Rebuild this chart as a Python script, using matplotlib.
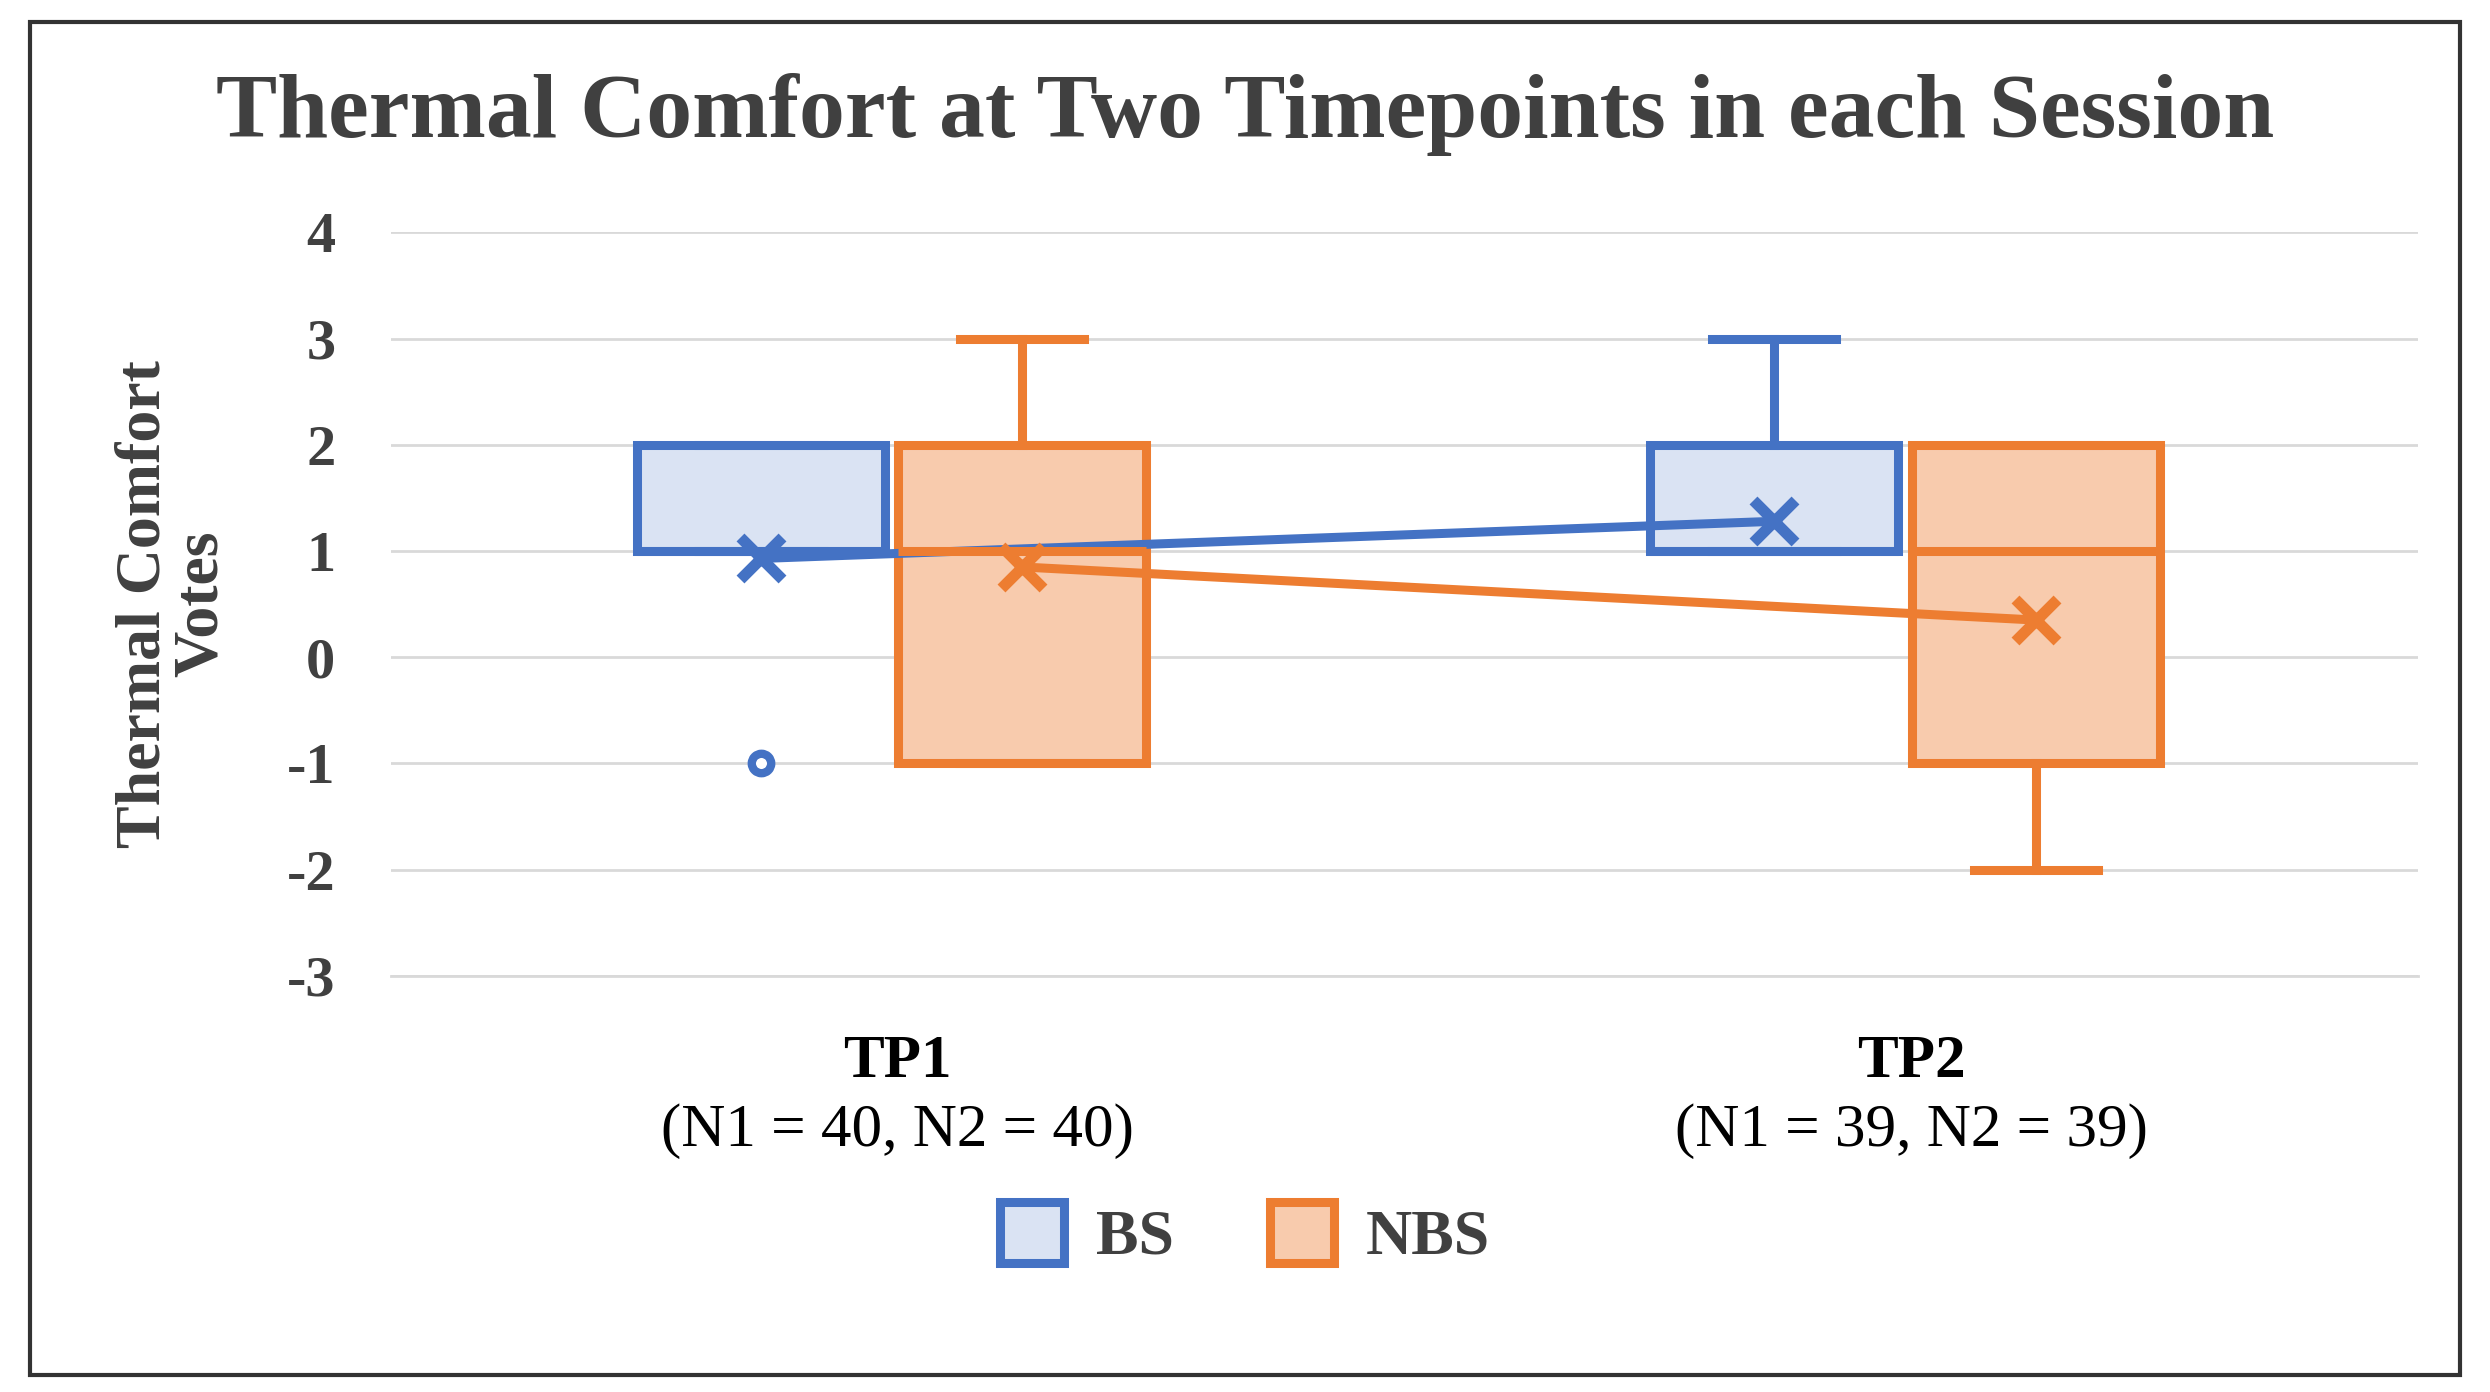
import matplotlib
matplotlib.use("Agg")
import matplotlib.pyplot as plt
from matplotlib.patches import Rectangle, Patch

categories = ["TP1", "TP2"]
sub_labels = ["(N1 = 40, N2 = 40)", "(N1 = 39, N2 = 39)"]
series = ["BS", "NBS"]
# per series, per category: whislo, q1, med, q3, whishi, mean, fliers
stats = {
    "BS": [dict(whislo=1, q1=1, med=1, q3=2, whishi=2, mean=0.93, fliers=[-1]),
           dict(whislo=1, q1=1, med=1, q3=2, whishi=3, mean=1.28, fliers=[])],
    "NBS": [dict(whislo=-1, q1=-1, med=1, q3=2, whishi=3, mean=0.85, fliers=[]),
            dict(whislo=-2, q1=-1, med=1, q3=2, whishi=2, mean=0.35, fliers=[])],
}
edge = {"BS": "#4472C4", "NBS": "#ED7D31"}
fill = {"BS": "#DAE3F3", "NBS": "#F8CBAD"}
offsets = {"BS": -0.135, "NBS": 0.123}

serif = ["Liberation Serif", "DejaVu Serif"]
lw = 6.5
fig = plt.figure(figsize=(24.9, 13.92), dpi=100)
fig.patches.append(Rectangle((0.012, 0.012), 0.976, 0.972, transform=fig.transFigure,
                             fill=False, edgecolor="#333333", linewidth=3))
ax = fig.add_axes([0.157, 0.299, 0.814, 0.534])
for s in series:
    pos = [i + 0.5 + offsets[s] for i in range(len(categories))]
    ax.bxp(stats[s], positions=pos, widths=0.245, patch_artist=True, showmeans=False,
           showcaps=True,
           boxprops=dict(facecolor=fill[s], edgecolor=edge[s], linewidth=lw),
           medianprops=dict(color=edge[s], linewidth=lw, zorder=8),
           whiskerprops=dict(color=edge[s], linewidth=lw),
           capprops=dict(color=edge[s], linewidth=lw),
           flierprops=dict(marker="o", markerfacecolor="white", markeredgecolor=edge[s],
                           markersize=14, markeredgewidth=6))
    means = [d["mean"] for d in stats[s]]
    ax.plot(pos, means, color=edge[s], linewidth=lw, zorder=5)
    ax.plot(pos, means, linestyle="none", marker="x", color=edge[s], markersize=30,
            markeredgewidth=8, zorder=9)

ax.set_xlim(0, 2)
ax.set_ylim(-3, 4)
ax.set_yticks(range(-3, 5))
ax.set_yticklabels([str(v) for v in range(-3, 5)], fontsize=42, fontweight="bold",
                   family=serif, color="#404040")
ax.set_xticks([])
ax.grid(axis="y", color="#D9D9D9", linewidth=2)
ax.set_axisbelow(True)
for sp in ["top", "right", "left"]:
    ax.spines[sp].set_visible(False)
ax.spines["bottom"].set_color("#D9D9D9")
ax.spines["bottom"].set_linewidth(2)
ax.tick_params(axis="y", length=0, pad=40)
ax.set_ylabel("Thermal Comfort\nVotes", fontsize=46, fontweight="bold", family=serif,
              color="#404040", labelpad=40, linespacing=1.0)

for i, (c, sl) in enumerate(zip(categories, sub_labels)):
    ax.text(i + 0.5, -3.55, c, ha="center", va="top", fontsize=44, fontweight="bold", family=serif)
    ax.text(i + 0.5, -4.2, sl, ha="center", va="top", fontsize=44, family=serif)

fig.text(0.5, 0.918, "Thermal Comfort at Two Timepoints in each Session", ha="center", va="center",
         fontsize=66, fontweight="bold", family=serif, color="#404040")
handles = [Patch(facecolor=fill[s], edgecolor=edge[s], linewidth=lw, label=s) for s in series]
fig.legend(handles=handles, loc="center", bbox_to_anchor=(0.5, 0.113), ncol=2, frameon=False,
           prop=dict(family=serif, size=46, weight="bold"), handlelength=1.0, handleheight=1.1,
           columnspacing=1.5, handletextpad=0.5, labelcolor="#404040")
fig.savefig("out.png", dpi=100)
